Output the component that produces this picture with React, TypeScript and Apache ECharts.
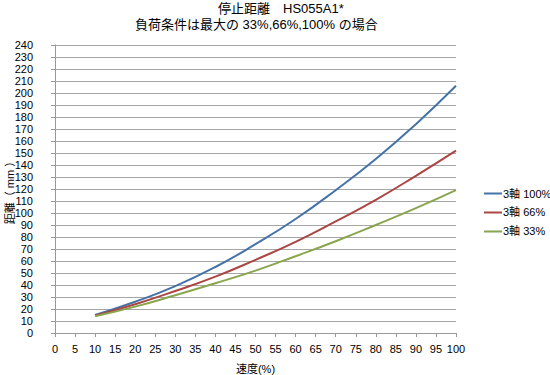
import React, { useEffect, useRef } from "react";
import * as echarts from "echarts";

const speeds = [10, 20, 30, 40, 50, 60, 70, 80, 90, 100];
const load100 = [15, 26, 39, 55, 74, 95, 119, 145, 174, 206];
const load66 = [14.5, 24, 35, 47, 61, 76, 93, 111, 131, 152];
const load33 = [14, 22, 31.5, 41.5, 52, 64, 76.5, 90, 104, 119];
const seriesNames = ["3軸 100%", "3軸 66%", "3軸 33%"];
const titleLine1 = "停止距離　HS055A1*";
const titleLine2 = "負荷条件は最大の 33%,66%,100% の場合";
const xName = "速度(%)";
const yName = "距離（ mm ）";

const FONT = "'Liberation Sans', 'Noto Sans CJK JP', sans-serif";

export default function App() {
  const ref = useRef<HTMLDivElement>(null);
  useEffect(() => {
    if (!ref.current) return;
    const chart = echarts.init(ref.current, undefined, { renderer: "svg" });
    const mk = (arr: number[]) => speeds.map((s, i) => [s, arr[i]]);
    const colors = ["#4572A7", "#AA4643", "#89A54E"];
    const datas = [load100, load66, load33];
    chart.setOption({
      animation: false,
      backgroundColor: "#ffffff",
      textStyle: { fontFamily: FONT, color: "#000" },
      title: [
        {
          text: titleLine1,
          left: 213,
          top: -3,
          textStyle: { fontSize: 13, fontWeight: "normal", color: "#000", fontFamily: FONT },
        },
        {
          text: titleLine2,
          left: 130,
          top: 13,
          textStyle: { fontSize: 13, fontWeight: "normal", color: "#000", fontFamily: FONT },
        },
      ],
      graphic: [
        {
          type: "text",
          x: 10,
          y: 190,
          rotation: Math.PI / 2,
          style: {
            text: yName,
            fontSize: 11,
            fontFamily: FONT,
            fill: "#000",
            align: "center",
            verticalAlign: "middle",
          },
        },
      ],
      legend: {
        orient: "vertical",
        left: 479,
        top: 183,
        icon: "rect",
        itemWidth: 18,
        itemHeight: 2,
        itemGap: 8,
        textStyle: { fontSize: 11, color: "#000", fontFamily: FONT, padding: [0, 0, 0, -4] },
        data: seriesNames,
      },
      grid: { left: 55, top: 45, width: 401, height: 288, containLabel: false, outerBoundsMode: "none" },
      xAxis: {
        type: "value",
        min: 0,
        max: 100,
        interval: 5,
        name: xName,
        nameLocation: "middle",
        nameGap: 30,
        nameTextStyle: { fontSize: 11, color: "#000", fontFamily: FONT },
        axisLine: { show: true, lineStyle: { color: "#999" } },
        axisTick: { show: true, length: 4, lineStyle: { color: "#999" } },
        axisLabel: { fontSize: 11, color: "#000", margin: 10, fontFamily: FONT },
        splitLine: { show: false },
      },
      yAxis: {
        type: "value",
        min: 0,
        max: 240,
        interval: 10,
        axisLine: { show: true, lineStyle: { color: "#999" } },
        axisTick: { show: true, length: 4, lineStyle: { color: "#999" } },
        axisLabel: { fontSize: 11, color: "#000", margin: 22, fontFamily: FONT },
        splitLine: { show: true, lineStyle: { color: "#a6a6a6", width: 1 } },
      },
      series: seriesNames.map((name, i) => ({
        name,
        type: "line",
        smooth: true,
        showSymbol: false,
        symbol: "none",
        data: mk(datas[i]),
        lineStyle: { color: colors[i], width: 2 },
        itemStyle: { color: colors[i] },
      })),
    });
    return () => chart.dispose();
  }, []);
  return (
    <div
      ref={ref}
      style={{ position: "fixed", left: 0, top: 0, width: 550, height: 375, background: "#fff" }}
    />
  );
}
